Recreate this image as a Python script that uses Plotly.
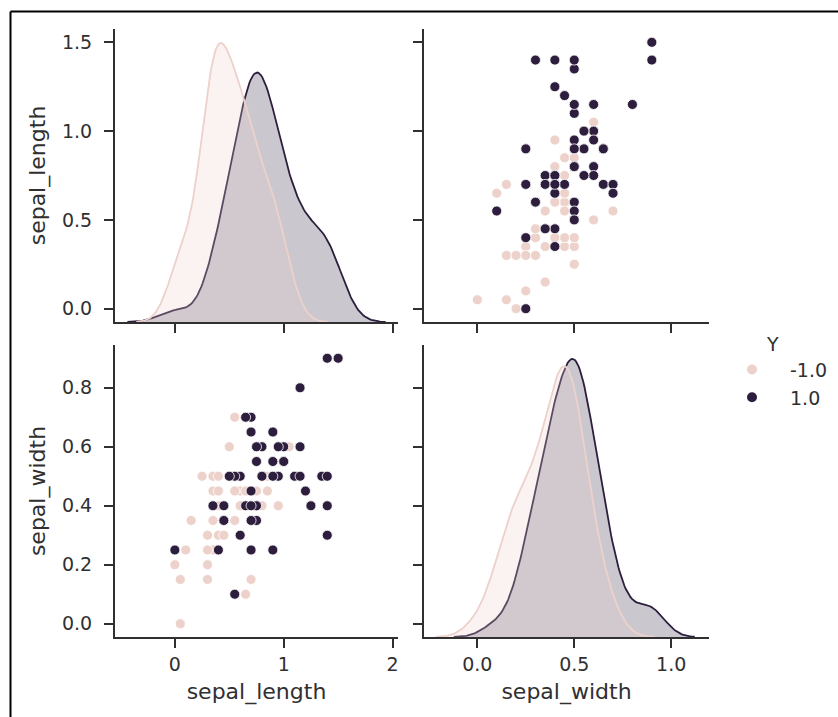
import numpy as np
import plotly.graph_objects as go

W, H = 838, 717
FONT = "DejaVu Sans"
INK = "#303030"

# ---------------- data (values as plotted) ----------------
hue_levels = ["-1.0", "1.0"]
hue_colors = ["#edd1cb", "#2d1e3e"]

neg_sepal_length = [1.05, 0.75, 1.0, 0.3, 0.8, 0.4, 0.7, 0.0, 0.85, 0.15,
                    0.05, 0.5, 0.55, 0.6, 0.35, 0.9, 0.35, 0.45, 0.65, 0.35,
                    0.5, 0.6, 0.7, 0.6, 0.75, 0.85, 0.95, 0.9, 0.55, 0.4,
                    0.3, 0.3, 0.45, 0.55, 0.25, 0.55, 0.9, 0.7, 0.35, 0.3,
                    0.3, 0.6, 0.45, 0.05, 0.35, 0.4, 0.4, 0.65, 0.1, 0.4]
neg_sepal_width = [0.6, 0.6, 0.55, 0.15, 0.4, 0.4, 0.65, 0.2, 0.45, 0.35,
                   0.0, 0.5, 0.1, 0.45, 0.45, 0.55, 0.5, 0.35, 0.1, 0.25,
                   0.6, 0.4, 0.25, 0.4, 0.45, 0.5, 0.4, 0.5, 0.45, 0.3,
                   0.2, 0.2, 0.35, 0.35, 0.5, 0.7, 0.55, 0.15, 0.5, 0.25,
                   0.3, 0.5, 0.3, 0.15, 0.35, 0.5, 0.45, 0.45, 0.25, 0.4]
pos_sepal_length = [0.7, 0.45, 1.1, 0.7, 0.8, 1.35, 0.0, 1.2, 0.9, 1.15,
                    0.8, 0.75, 0.95, 0.4, 0.45, 0.75, 0.8, 1.4, 1.4, 0.55,
                    1.0, 0.35, 1.4, 0.7, 0.9, 1.15, 0.65, 0.6, 0.75, 1.15,
                    1.25, 1.5, 0.75, 0.7, 0.6, 1.4, 0.7, 0.75, 0.55, 1.0,
                    0.9, 1.0, 0.45, 0.95, 0.9, 0.9, 0.7, 0.8, 0.65, 0.5]
pos_sepal_width = [0.65, 0.35, 0.5, 0.45, 0.5, 0.5, 0.25, 0.45, 0.25, 0.8,
                   0.6, 0.35, 0.5, 0.25, 0.4, 0.6, 0.5, 0.9, 0.3, 0.1,
                   0.6, 0.4, 0.4, 0.35, 0.65, 0.6, 0.4, 0.5, 0.4, 0.5,
                   0.4, 0.9, 0.4, 0.4, 0.3, 0.5, 0.7, 0.55, 0.5, 0.55,
                   0.55, 0.55, 0.35, 0.6, 0.65, 0.5, 0.25, 0.5, 0.7, 0.5]

sl_ticks = [0, 1, 2]
sl_ticktext = ["0", "1", "2"]
sl_yticks = [0.0, 0.5, 1.0, 1.5]
sl_yticktext = ["0.0", "0.5", "1.0", "1.5"]
sw_ticks = [0.0, 0.5, 1.0]
sw_ticktext = ["0.0", "0.5", "1.0"]
sw_yticks = [0.0, 0.2, 0.4, 0.6, 0.8]
sw_yticktext = ["0.0", "0.2", "0.4", "0.6", "0.8"]

classes = {
    "-1.0": dict(sl=neg_sepal_length, sw=neg_sepal_width, color=hue_colors[0]),
    "1.0": dict(sl=pos_sepal_length, sw=pos_sepal_width, color=hue_colors[1]),
}
N_TOTAL = len(neg_sepal_length) + len(pos_sepal_length)


def kde(vals, gridsize=200, cut=3):
    """Gaussian KDE (Scott's rule), like seaborn's kdeplot, common-normed."""
    v = np.asarray(vals, dtype=float)
    n = v.size
    bw = n ** (-1 / 5) * v.std(ddof=1)
    grid = np.linspace(v.min() - cut * bw, v.max() + cut * bw, gridsize)
    d = np.exp(-0.5 * ((grid[:, None] - v[None, :]) / bw) ** 2).sum(1)
    d = d / (n * bw * np.sqrt(2 * np.pi))
    return grid, d * n / N_TOTAL


def rgba(hexc, a):
    h = hexc.lstrip("#")
    r, g, b = int(h[0:2], 16), int(h[2:4], 16), int(h[4:6], 16)
    return f"rgba({r},{g},{b},{a})"


def fx(p):
    return p / W


def fy(p):
    return 1 - p / H


fig = go.Figure()

# empty traces so the diagonal panels' own (shared) axes are drawn
for xa, ya in (("x", "y"), ("x4", "y4")):
    fig.add_trace(go.Scatter(x=[None], y=[None], xaxis=xa, yaxis=ya,
                             mode="markers", showlegend=False,
                             hoverinfo="skip"))

# ---- diagonal KDEs (dark level drawn first, like seaborn) ----
kde_max = {"sl": 0.0, "sw": 0.0}
for lvl in reversed(hue_levels):
    c = classes[lvl]
    for var, xa, ya in (("sl", "x", "y5"), ("sw", "x4", "y6")):
        gx, gy = kde(c[var])
        kde_max[var] = max(kde_max[var], gy.max())
        fig.add_trace(go.Scatter(
            x=gx, y=gy, xaxis=xa, yaxis=ya, mode="lines",
            line=dict(color=c["color"], width=1.8),
            fill="tozeroy", fillcolor=rgba(c["color"], 0.25),
            showlegend=False, hoverinfo="skip", legendgroup=lvl))

# ---- off-diagonal scatters ----
for lvl in hue_levels:
    c = classes[lvl]
    mk = dict(color=c["color"], size=10, line=dict(color="white", width=0.8))
    # top-right: x = sepal_width, y = sepal_length
    fig.add_trace(go.Scatter(x=c["sw"], y=c["sl"], xaxis="x2", yaxis="y2",
                             mode="markers", marker=mk, name=lvl,
                             legendgroup=lvl, showlegend=True))
    # bottom-left: x = sepal_length, y = sepal_width
    fig.add_trace(go.Scatter(x=c["sl"], y=c["sw"], xaxis="x3", yaxis="y3",
                             mode="markers", marker=mk, name=lvl,
                             legendgroup=lvl, showlegend=False))

X1 = [-0.55, 2.05]
X2 = [-0.275, 1.195]
Y1 = [-0.075, 1.575]
Y2 = [-0.045, 0.945]
COL1 = [fx(115), fx(398)]
COL2 = [fx(424), fx(709)]
ROW1 = [fy(322), fy(29)]
ROW2 = [fy(637), fy(345)]

tickfont = dict(family=FONT, size=19, color=INK)
titlefont = dict(family=FONT, size=22, color=INK)
base = dict(showline=True, linecolor=INK, linewidth=2, ticks="outside",
            ticklen=9, tickwidth=2, tickcolor=INK, showgrid=False,
            zeroline=False, tickfont=tickfont, automargin=False)
hidden = dict(visible=False, showgrid=False, zeroline=False, showline=False,
              showticklabels=False, ticks="", automargin=False)

fig.update_layout(
    width=W, height=H, margin=dict(l=0, r=0, t=0, b=0),
    paper_bgcolor="white", plot_bgcolor="rgba(0,0,0,0)",
    font=dict(family=FONT, color=INK),
    xaxis=dict(base, domain=COL1, anchor="y", range=X1, tickvals=sl_ticks,
               showticklabels=False),
    yaxis=dict(base, domain=ROW1, anchor="x", range=Y1, tickvals=sl_yticks,
               ticktext=sl_yticktext, ticklabelstandoff=8,
               title=dict(text="sepal_length", font=titlefont, standoff=10)),
    xaxis2=dict(base, domain=COL2, anchor="y2", range=X2, tickvals=sw_ticks,
                showticklabels=False),
    yaxis2=dict(base, domain=ROW1, anchor="x2", range=Y1, tickvals=sl_yticks,
                showticklabels=False),
    xaxis3=dict(base, domain=COL1, anchor="y3", range=X1, tickvals=sl_ticks,
                ticktext=sl_ticktext,
                title=dict(text="sepal_length", font=titlefont, standoff=10)),
    yaxis3=dict(base, domain=ROW2, anchor="x3", range=Y2, tickvals=sw_yticks,
                ticktext=sw_yticktext, ticklabelstandoff=8,
                title=dict(text="sepal_width", font=titlefont, standoff=10)),
    xaxis4=dict(base, domain=COL2, anchor="y4", range=X2, tickvals=sw_ticks,
                ticktext=sw_ticktext,
                title=dict(text="sepal_width", font=titlefont, standoff=10)),
    yaxis4=dict(base, domain=ROW2, anchor="x4", range=Y2, tickvals=sw_yticks,
                showticklabels=False),
    yaxis5=dict(hidden, domain=ROW1, anchor="x",
                range=[0, 1.05 * kde_max["sl"]]),
    yaxis6=dict(hidden, domain=ROW2, anchor="x4",
                range=[0, 1.05 * kde_max["sw"]]),
    legend=dict(x=fx(714), y=fy(326), xanchor="left", yanchor="top",
                title=dict(text="Y", side="top center",
                           font=dict(family=FONT, size=19, color=INK)),
                font=dict(family=FONT, size=19, color=INK),
                bgcolor="rgba(0,0,0,0)", tracegroupgap=0, itemwidth=66,
                itemsizing="constant"),
    shapes=[
        dict(type="line", xref="paper", yref="paper", x0=fx(10.5), x1=1.0,
             y0=fy(11.5), y1=fy(11.5), line=dict(color="black", width=2)),
        dict(type="line", xref="paper", yref="paper", x0=fx(10.5), x1=fx(10.5),
             y0=0.0, y1=fy(11.5), line=dict(color="black", width=2)),
    ],
    hovermode=False,
)

fig.write_html("out.html")
